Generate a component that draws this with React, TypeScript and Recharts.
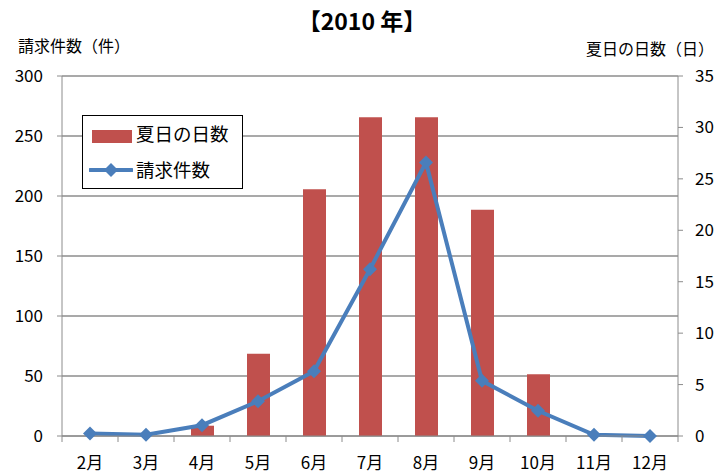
import {
  ComposedChart,
  Bar,
  Line,
  XAxis,
  YAxis,
  CartesianGrid,
  Legend,
} from "recharts";

const months = ["2月", "3月", "4月", "5月", "6月", "7月", "8月", "9月", "10月", "11月", "12月"];
const summerDays = [0, 0, 1, 8, 24, 31, 31, 22, 6, 0, 0];
const claims = [2, 1, 9, 29, 54, 139, 228, 46, 21, 1, 0];
const leftTicks = [0, 50, 100, 150, 200, 250, 300];
const rightTicks = [0, 5, 10, 15, 20, 25, 30, 35];

const data = months.map((m, i) => ({ month: m, days: summerDays[i], claims: claims[i] }));

const W = 724;
const H = 474;
const LEFT_W = 62;
const RIGHT_W = 46;
const TOP = 76;
const BOTTOM = 38;
const BAND = (W - LEFT_W - RIGHT_W) / months.length;

const FONT = '"Noto Sans CJK JP", "Noto Sans", sans-serif';
const GRID = "#8c8c8c";
const RED = "#c0504d";
const BLUE = "#4a7ebb";

const Diamond = (props: any) => {
  const { cx, cy, index } = props;
  if (cx == null || cy == null) return null;
  const r = 7;
  return (
    <path
      key={`d-${index}`}
      d={`M${cx},${cy - r} L${cx + r},${cy} L${cx},${cy + r} L${cx - r},${cy} Z`}
      fill={BLUE}
    />
  );
};

const MonthTick = (props: any) => {
  const { x, y, payload, index } = props;
  const last = index === months.length - 1;
  return (
    <g>
      <line x1={x - BAND / 2} y1={y} x2={x - BAND / 2} y2={y + 6} stroke={GRID} />
      {last && <line x1={x + BAND / 2} y1={y} x2={x + BAND / 2} y2={y + 6} stroke={GRID} />}
      <text x={x} y={y + 33} textAnchor="middle" fontSize={17} fill="#000" fontFamily={FONT}>
        {payload.value}
      </text>
    </g>
  );
};

const LegendBox = () => (
  <div
    style={{
      width: 159,
      height: 72,
      border: "1.5px solid #000",
      background: "#fff",
      fontFamily: FONT,
      fontSize: 18.5,
      color: "#000",
      position: "relative",
    }}
  >
    <div style={{ position: "absolute", left: 9, top: 14, width: 40, height: 13, background: RED }} />
    <div style={{ position: "absolute", left: 53, top: 4, lineHeight: "26px" }}>夏日の日数</div>
    <svg style={{ position: "absolute", left: 6, top: 46 }} width={44} height={16}>
      <line x1={1} y1={8} x2={43} y2={8} stroke={BLUE} strokeWidth={4} strokeLinecap="round" />
      <path d="M22,1 L29,8 L22,15 L15,8 Z" fill={BLUE} />
    </svg>
    <div style={{ position: "absolute", left: 53, top: 40, lineHeight: "26px" }}>請求件数</div>
  </div>
);

export default function App() {
  return (
    <div style={{ position: "relative", width: W, height: H, fontFamily: FONT }}>
      <style>{"body{margin:0}"}</style>
      <div
        style={{
          position: "absolute",
          left: 0,
          width: W,
          top: 4,
          textAlign: "center",
          fontSize: 23,
          fontWeight: "bold",
          lineHeight: "32px",
        }}
      >
        【2010 年】
      </div>
      <div style={{ position: "absolute", left: 18, top: 33, fontSize: 16, lineHeight: "24px" }}>
        請求件数（件）
      </div>
      <div style={{ position: "absolute", right: 10, top: 36, fontSize: 16, lineHeight: "24px" }}>
        夏日の日数（日）
      </div>
      <ComposedChart
        width={W}
        height={H}
        data={data}
        margin={{ top: TOP, right: 0, left: 0, bottom: 0 }}
        barCategoryGap="30%"
      >
        <CartesianGrid vertical={false} stroke={GRID} strokeWidth={1.5} yAxisId="left" />
        <XAxis
          dataKey="month"
          height={BOTTOM}
          axisLine={{ stroke: GRID }}
          tickLine={false}
          tickSize={0}
          tickMargin={0}
          interval={0}
          tick={<MonthTick />}
        />
        <YAxis
          yAxisId="left"
          orientation="left"
          width={LEFT_W}
          domain={[0, 300]}
          ticks={leftTicks}
          interval={0}
          axisLine={{ stroke: GRID }}
          tickLine={{ stroke: GRID }}
          tickSize={5}
          tickMargin={14}
          tick={{ fontSize: 17, fill: "#000", fontFamily: FONT }}
        />
        <YAxis
          yAxisId="right"
          orientation="right"
          width={RIGHT_W}
          domain={[0, 35]}
          ticks={rightTicks}
          interval={0}
          axisLine={{ stroke: GRID }}
          tickLine={{ stroke: GRID }}
          tickSize={5}
          tickMargin={12}
          tick={{ fontSize: 17, fill: "#000", fontFamily: FONT, textAnchor: "start" }}
        />
        <Legend
          layout="vertical"
          align="center"
          verticalAlign="middle"
          content={() => <LegendBox />}
          wrapperStyle={{ left: 82, top: 115, width: 162, height: 75 }}
        />
        <Bar
          yAxisId="right"
          dataKey="days"
          name="夏日の日数"
          fill={RED}
          barSize={23}
          isAnimationActive={false}
        />
        <Line
          yAxisId="left"
          dataKey="claims"
          name="請求件数"
          stroke={BLUE}
          strokeWidth={4}
          dot={<Diamond />}
          activeDot={false}
          isAnimationActive={false}
        />
      </ComposedChart>
    </div>
  );
}
